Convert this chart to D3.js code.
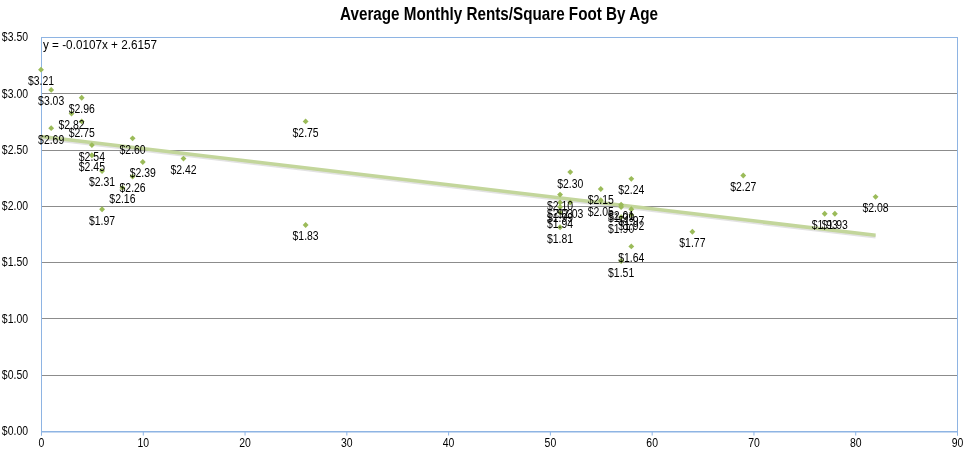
<!DOCTYPE html>
<html>
<meta charset="utf-8">
<style>
  body { margin: 0; background: #fff; }
  svg { will-change: transform; }
  text { font-family: "Liberation Sans", Arial, sans-serif; fill: #000; }
  .grid line { stroke: #8c8c8c; stroke-width: 1; }
  .frame { fill: none; stroke: #8eb4e3; stroke-width: 1; }
  .point { fill: #9bbb59; }
</style>

<body>
  <script src="https://d3js.org/d3.v7.min.js"></script>

  <script>
    let width = 963,
      height = 454;
    let margin = { top: 37, right: 6, bottom: 23, left: 41 };
    let narrow = 0.87; // squeeze text to look like a narrow face
    let fs = 12;

    // age (years) and rent per square foot
    let ages = [0, 1, 1, 4, 3, 4, 5, 5, 6, 9, 10, 9, 8, 6, 14, 26, 26,
      52, 51, 51, 52, 51, 51, 51, 55, 55, 58, 57, 57, 58, 57, 58, 58, 57,
      64, 69, 77, 78, 82];
    let rents = [3.21, 3.03, 2.69, 2.96, 2.82, 2.75, 2.54, 2.45, 2.31, 2.60, 2.39, 2.26, 2.16, 1.97, 2.42, 2.75, 1.83,
      2.30, 2.10, 2.03, 2.03, 1.99, 1.94, 1.81, 2.15, 2.05, 2.24, 2.01, 1.99, 1.97, 1.90, 1.92, 1.64, 1.51,
      1.77, 2.27, 1.93, 1.93, 2.08];

    let yTicks = [0, 0.5, 1, 1.5, 2, 2.5, 3, 3.5];
    let xTicks = [0, 10, 20, 30, 40, 50, 60, 70, 80, 90];
    let slope = -0.0107, intercept = 2.6157;
    let trendRange = [0, 82];

    let x = d3.scaleLinear().domain([0, 90]).range([margin.left, width - margin.right]);
    let y = d3.scaleLinear().domain([0, 3.5]).range([height - margin.bottom, margin.top]);

    let svg = d3.select("body").append("svg")
      .attr("width", width)
      .attr("height", height);

    let fmt = d3.format("$.2f");

    // squeeze a text selection horizontally without transforms
    function squeeze(sel) {
      sel.each(function () {
        let w = this.getComputedTextLength();
        d3.select(this)
          .attr("textLength", w * narrow)
          .attr("lengthAdjust", "spacingAndGlyphs");
      });
    }

    // horizontal gridlines
    svg.append("g")
      .attr("class", "grid")
      .selectAll("line")
      .data(yTicks.slice(1, -1))
      .join("line")
      .attr("x1", x(0)).attr("x2", x(90))
      .attr("y1", d => Math.round(y(d)) + 0.5).attr("y2", d => Math.round(y(d)) + 0.5);

    // plot frame
    svg.append("rect")
      .attr("class", "frame")
      .attr("x", x(0) + 0.5).attr("y", y(3.5) + 0.5)
      .attr("width", x(90) - x(0)).attr("height", y(0) - y(3.5));

    // x axis
    let xAxis = svg.append("g")
      .attr("transform", `translate(0,${Math.round(y(0)) + 0.5})`)
      .call(d3.axisBottom(x).tickValues(xTicks).tickSize(4).tickPadding(3));
    xAxis.select(".domain").attr("stroke", "#8eb4e3");
    xAxis.selectAll(".tick line").attr("stroke", "#8eb4e3");
    xAxis.selectAll("text")
      .attr("font-size", fs)
      .attr("fill", "#000")
      .style("font-family", "'Liberation Sans', Arial, sans-serif")
      .call(squeeze);

    // y axis labels
    let yAxis = svg.append("g")
      .attr("transform", `translate(${x(0)},0)`)
      .call(d3.axisLeft(y).tickValues(yTicks).tickFormat(fmt).tickSize(0).tickPadding(13));
    yAxis.select(".domain").remove();
    yAxis.selectAll("text")
      .attr("font-size", fs)
      .attr("fill", "#000")
      .style("font-family", "'Liberation Sans', Arial, sans-serif")
      .call(squeeze);

    // trendline with a faint shadow
    let trend = trendRange.map(a => [a, slope * a + intercept]);
    let line = d3.line().x(d => x(d[0])).y(d => y(d[1]));
    svg.append("path")
      .datum(trend)
      .attr("d", line)
      .attr("transform", "translate(0,1.5)")
      .attr("fill", "none")
      .attr("stroke", "#a0a0a0")
      .attr("stroke-opacity", 0.3)
      .attr("stroke-width", 3.5);
    svg.append("path")
      .datum(trend)
      .attr("d", line)
      .attr("fill", "none")
      .attr("stroke", "#c3d69b")
      .attr("stroke-width", 3.5);

    let points = ages.map((a, i) => ({ age: a, rent: rents[i] }));

    // diamond markers
    svg.selectAll(".point")
      .data(points)
      .join("path")
      .attr("class", "point")
      .attr("d", d3.symbol().type(d3.symbolDiamond2).size(22))
      .attr("transform", d => `translate(${x(d.age)},${y(d.rent)})`);

    // data labels below the points
    svg.selectAll(".lbl")
      .data(points)
      .join("text")
      .attr("class", "lbl")
      .attr("text-anchor", "middle")
      .attr("font-size", fs)
      .attr("x", d => x(d.age))
      .attr("y", d => y(d.rent) + 15.5)
      .text(d => fmt(d.rent))
      .call(squeeze);

    // trendline equation
    svg.append("text")
      .attr("x", x(0) + 2)
      .attr("y", y(3.5) + 12)
      .attr("font-size", fs)
      .attr("textLength", 114)
      .attr("lengthAdjust", "spacingAndGlyphs")
      .text("y = -0.0107x + 2.6157");

    // title
    svg.append("text")
      .attr("x", 499)
      .attr("y", 20)
      .attr("text-anchor", "middle")
      .attr("font-size", 17.5)
      .attr("font-weight", "bold")
      .attr("textLength", 318)
      .attr("lengthAdjust", "spacingAndGlyphs")
      .text("Average Monthly Rents/Square Foot By Age");
  </script>

</body>

</html>
